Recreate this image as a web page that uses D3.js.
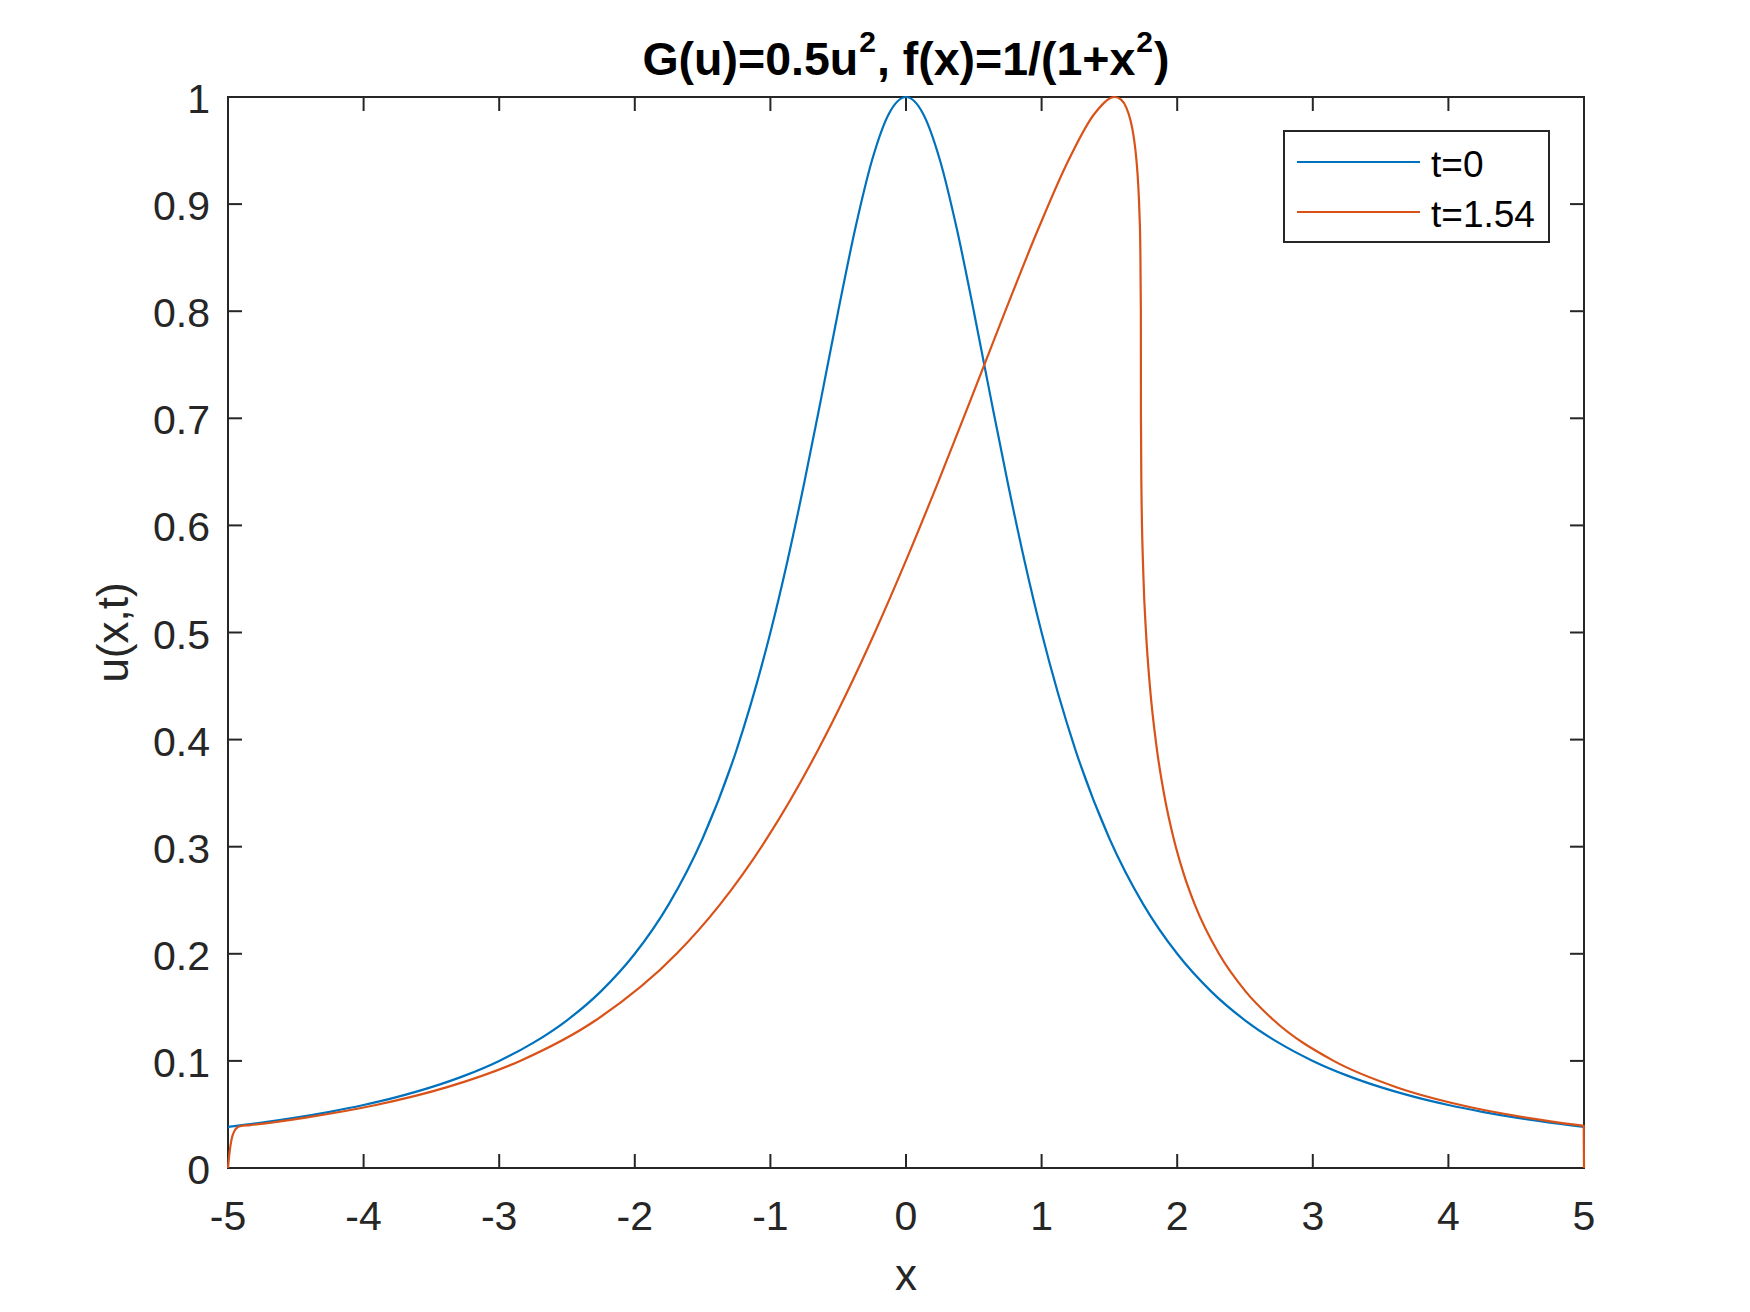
<!DOCTYPE html>
<html>
<head>
<meta charset="utf-8">
<script src="https://cdn.jsdelivr.net/npm/d3@7"></script>
<style>
  html, body { margin: 0; padding: 0; background: #ffffff; }
  svg { display: block; }
  text { font-family: "Liberation Sans", Arial, Helvetica, sans-serif; }
</style>
</head>
<body>
<svg id="chart" width="1750" height="1312"></svg>
<script>
// ---------------- data ----------------
const xTicks = [-5, -4, -3, -2, -1, 0, 1, 2, 3, 4, 5];
const yTicks = [0, 0.1, 0.2, 0.3, 0.4, 0.5, 0.6, 0.7, 0.8, 0.9, 1];
const yTickLabels = ["0", "0.1", "0.2", "0.3", "0.4", "0.5", "0.6", "0.7", "0.8", "0.9", "1"];

const seriesNames = ["t=0", "t=1.54"];
const seriesColors = ["#0072BD", "#D95319"];

// t = 0
const blueX = [-5, -4.75, -4.5, -4.25, -4, -3.75, -3.5, -3.25, -3, -2.75, -2.5, -2.25, -2, -1.75, -1.5, -1.25,
  -1, -0.875, -0.75, -0.625, -0.5, -0.375, -0.25, -0.125, 0, 0.125, 0.25, 0.375, 0.5, 0.625, 0.75, 0.875, 1,
  1.25, 1.5, 1.75, 2, 2.25, 2.5, 2.75, 3, 3.25, 3.5, 3.75, 4, 4.25, 4.5, 4.75, 5];
const blueU = [0.038462, 0.042440, 0.047059, 0.052459, 0.058824, 0.066390, 0.075472, 0.086486, 0.1, 0.116788,
  0.137931, 0.164948, 0.2, 0.246154, 0.307692, 0.390244,
  0.5, 0.566372, 0.64, 0.719101, 0.8, 0.876712, 0.941176, 0.984615, 1, 0.984615, 0.941176, 0.876712, 0.8,
  0.719101, 0.64, 0.566372, 0.5,
  0.390244, 0.307692, 0.246154, 0.2, 0.164948, 0.137931, 0.116788, 0.1, 0.086486, 0.075472, 0.066390,
  0.058824, 0.052459, 0.047059, 0.042440, 0.038462];

// t = 1.54
const orangeX = [-5, -4.99, -4.975, -4.955, -4.935, -4.91, -4.838, -4.4275, -3.909, -3.384, -2.846, -2.288,
  -1.692, -1.371, -1.026, -0.649, -0.4453, -0.23, -0.0028, 0.2356, 0.4824, 0.732, 0.9751, 1.1994, 1.3913,
  1.54, 1.5862, 1.62475, 1.6561, 1.68077, 1.6994, 1.71284, 1.7219, 1.72759, 1.7320, 1.73235, 1.7326, 1.7356,
  1.7508, 1.77, 1.7968, 1.851, 1.9078, 1.9738, 2.048, 2.129, 2.308, 2.504, 2.7124, 3.154, 3.6162, 4.0906,
  4.5725, 4.9616, 4.998, 5];
const orangeU = [0, 0.013, 0.026, 0.034, 0.0375, 0.039, 0.03998, 0.04706, 0.05882, 0.07547, 0.1, 0.13793,
  0.2, 0.24615, 0.30769, 0.39024, 0.44138, 0.5, 0.56637, 0.64, 0.7191, 0.8, 0.87671, 0.94118, 0.98462,
  1, 0.99751, 0.9901, 0.978, 0.96154, 0.94118, 0.91743, 0.89087, 0.86207, 0.8, 0.75, 0.70299, 0.64,
  0.55249, 0.5, 0.45249, 0.39024, 0.34595, 0.30769, 0.27468, 0.24615, 0.2, 0.16495, 0.13793, 0.1, 0.07547,
  0.05882, 0.04706, 0.03998, 0.0394, 0];

// ---------------- layout ----------------
const W = 1750, H = 1312;
const plot = { left: 228, right: 1584, top: 97, bottom: 1168 };
const axisColor = "#262626";

const svg = d3.select("#chart");
svg.append("rect").attr("width", W).attr("height", H).attr("fill", "#ffffff");

const x = d3.scaleLinear().domain([-5, 5]).range([plot.left, plot.right]);
const y = d3.scaleLinear().domain([0, 1]).range([plot.bottom, plot.top]);

const tickLen = 14;

// ---------------- axes ----------------
const gAxes = svg.append("g");

// ticks: bottom & top
xTicks.forEach(t => {
  gAxes.append("line").attr("x1", x(t)).attr("x2", x(t))
    .attr("y1", plot.bottom).attr("y2", plot.bottom - tickLen)
    .attr("stroke", axisColor).attr("stroke-width", 2);
  gAxes.append("line").attr("x1", x(t)).attr("x2", x(t))
    .attr("y1", plot.top).attr("y2", plot.top + tickLen)
    .attr("stroke", axisColor).attr("stroke-width", 2);
  gAxes.append("text")
    .attr("x", x(t)).attr("y", plot.bottom + 62)
    .attr("text-anchor", "middle")
    .attr("font-size", 41)
    .attr("fill", axisColor)
    .text(String(t));
});

// ticks: left & right
yTicks.forEach((t, i) => {
  gAxes.append("line").attr("x1", plot.left).attr("x2", plot.left + tickLen)
    .attr("y1", y(t)).attr("y2", y(t))
    .attr("stroke", axisColor).attr("stroke-width", 2);
  gAxes.append("line").attr("x1", plot.right).attr("x2", plot.right - tickLen)
    .attr("y1", y(t)).attr("y2", y(t))
    .attr("stroke", axisColor).attr("stroke-width", 2);
  gAxes.append("text")
    .attr("x", plot.left - 18).attr("y", y(t) + 16)
    .attr("text-anchor", "end")
    .attr("font-size", 41)
    .attr("fill", axisColor)
    .text(yTickLabels[i]);
});

// box
gAxes.append("rect")
  .attr("x", plot.left).attr("y", plot.top)
  .attr("width", plot.right - plot.left).attr("height", plot.bottom - plot.top)
  .attr("fill", "none")
  .attr("stroke", axisColor).attr("stroke-width", 2);

// ---------------- lines (drawn over the box, like the reference) ----------------
const line = d3.line().x(d => x(d[0])).y(d => y(d[1])).curve(d3.curveMonotoneX);

const seriesData = [
  blueX.map((v, i) => [v, blueU[i]]),
  orangeX.map((v, i) => [v, orangeU[i]])
];

const gLines = svg.append("g");
seriesData.forEach((data, i) => {
  gLines.append("path")
    .datum(data)
    .attr("d", line)
    .attr("fill", "none")
    .attr("stroke", seriesColors[i])
    .attr("stroke-width", 2.2)
    .attr("stroke-linejoin", "round");
});

// axis labels
svg.append("text")
  .attr("x", (plot.left + plot.right) / 2).attr("y", 1290)
  .attr("text-anchor", "middle")
  .attr("font-size", 44)
  .attr("fill", axisColor)
  .text("x");

svg.append("text")
  .attr("transform", `translate(128, ${(plot.top + plot.bottom) / 2}) rotate(-90)`)
  .attr("text-anchor", "middle")
  .attr("font-size", 44)
  .attr("fill", axisColor)
  .text("u(x,t)");

// title
const title = svg.append("text")
  .attr("x", (plot.left + plot.right) / 2).attr("y", 75)
  .attr("text-anchor", "middle")
  .attr("font-size", 46.5)
  .attr("font-weight", "bold")
  .attr("fill", "#000000");
title.append("tspan").text("G(u)=0.5u");
title.append("tspan").attr("dy", -23).attr("dx", 1).attr("font-size", 30).text("2");
title.append("tspan").attr("dy", 23).attr("dx", 1).text(", f(x)=1/(1+x");
title.append("tspan").attr("dy", -23).attr("dx", 1).attr("font-size", 30).text("2");
title.append("tspan").attr("dy", 23).attr("dx", 1).text(")");

// ---------------- legend ----------------
const leg = { x: 1284, y: 131, w: 265, h: 111 };
const gLeg = svg.append("g");
gLeg.append("rect")
  .attr("x", leg.x).attr("y", leg.y).attr("width", leg.w).attr("height", leg.h)
  .attr("fill", "#ffffff").attr("stroke", axisColor).attr("stroke-width", 2);
const rowY = [162, 212];
seriesNames.forEach((name, i) => {
  gLeg.append("line")
    .attr("x1", 1297).attr("x2", 1420)
    .attr("y1", rowY[i]).attr("y2", rowY[i])
    .attr("stroke", seriesColors[i]).attr("stroke-width", 2.2);
  gLeg.append("text")
    .attr("x", 1431).attr("y", rowY[i] + 15)
    .attr("font-size", 37)
    .attr("fill", "#000000")
    .text(name);
});
</script>
</body>
</html>
